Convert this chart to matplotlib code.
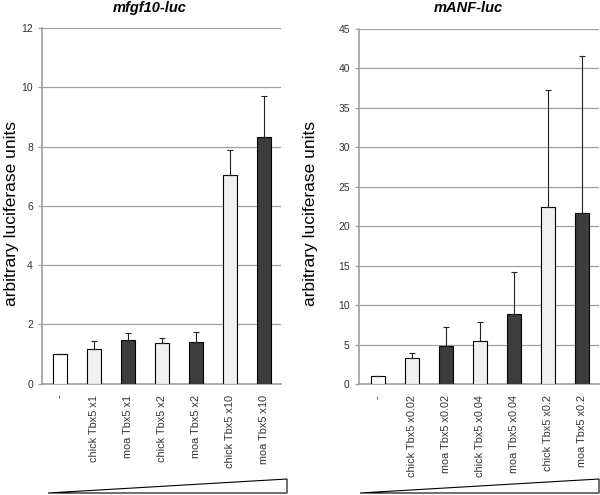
import matplotlib
matplotlib.use("Agg")
import matplotlib.pyplot as plt
from matplotlib.patches import Polygon
import numpy as np

plt.rcParams['font.family'] = ['Liberation Sans', 'DejaVu Sans']

# left panel: mfgf10-luc
fgf_labels = ['-', 'chick Tbx5 x1', 'moa Tbx5 x1', 'chick Tbx5 x2',
              'moa Tbx5 x2', 'chick Tbx5 x10', 'moa Tbx5 x10']
fgf_means = [1.0, 1.18, 1.47, 1.37, 1.42, 7.03, 8.31]
fgf_err = [0.0, 0.25, 0.23, 0.17, 0.34, 0.87, 1.38]

# right panel: mANF-luc
anf_labels = ['-', 'chick Tbx5 x0.02', 'moa Tbx5 x0.02', 'chick Tbx5 x0.04',
              'moa Tbx5 x0.04', 'chick Tbx5 x0.2', 'moa Tbx5 x0.2']
anf_means = [1.03, 3.25, 4.79, 5.5, 8.86, 22.46, 21.74]
anf_err = [0.0, 0.68, 2.5, 2.42, 5.3, 14.8, 19.86]

bar_colors = ['white', '#f0f0f0', '#3c3c3c', '#f0f0f0', '#3c3c3c', '#f0f0f0', '#3c3c3c']

W, H = 600.0, 495.0


def draw_panel(ax, labels, means, err, ymax, ystep, xleft):
    x = np.arange(len(labels))
    ax.bar(x, means, width=0.42, color=bar_colors, edgecolor='black',
           linewidth=0.8, zorder=3)
    ax.errorbar(x, means, yerr=[np.zeros(len(err)), err], fmt='none',
                ecolor='#222222', elinewidth=0.8, capsize=2.5, capthick=0.8,
                zorder=4)
    ax.set_xlim(xleft, 6.5)
    ax.set_ylim(0, ymax)
    ax.set_yticks(np.arange(0, ymax + 1, ystep))
    ax.yaxis.grid(True, color='#a0a0a0', linewidth=0.9, zorder=0)
    ax.set_axisbelow(True)
    ax.set_xticks(x)
    ax.set_xticklabels(labels, rotation=90, fontsize=7.8, color='#333333',
                       va='top')
    ax.tick_params(axis='x', length=0, pad=8)
    ax.tick_params(axis='y', labelsize=7.5, labelcolor='#333333',
                   color='#a0a0a0', length=3, width=0.9)
    for s in ['top', 'right']:
        ax.spines[s].set_visible(False)
    for s in ['left', 'bottom']:
        ax.spines[s].set_color('#a0a0a0')
        ax.spines[s].set_linewidth(1.2)


fig = plt.figure(figsize=(6.0, 4.95), dpi=100)
ax1 = fig.add_axes([0.07, 0.2248, 0.398, 0.7186])
ax2 = fig.add_axes([0.598, 0.2242, 0.400, 0.7172])

draw_panel(ax1, fgf_labels, fgf_means, fgf_err, 12, 2, -0.53)
draw_panel(ax2, anf_labels, anf_means, anf_err, 45, 5, -0.56)

# titles and y labels placed like the original figure
fig.text(150 / W, 1 - 8 / H, 'mfgf10-luc', fontsize=10.5, fontweight='bold',
         style='italic', ha='center', va='center')
fig.text(468 / W, 1 - 8 / H, 'mANF-luc', fontsize=10.5, fontweight='bold',
         style='italic', ha='center', va='center')
for xl in [12, 311]:
    fig.text(xl / W, 1 - 214 / H, 'arbitrary luciferase units', fontsize=12.5,
             rotation=90, ha='center', va='center')

# dose triangles under each panel
for x0, x1 in [(48, 287), (360, 599)]:
    pts = [(x0 / W, 1 - 493 / H), (x1 / W, 1 - 479 / H), (x1 / W, 1 - 493 / H)]
    fig.patches.append(Polygon(pts, closed=True, transform=fig.transFigure,
                               facecolor='white', edgecolor='black',
                               linewidth=0.8))

fig.savefig('out.png', dpi=100)
